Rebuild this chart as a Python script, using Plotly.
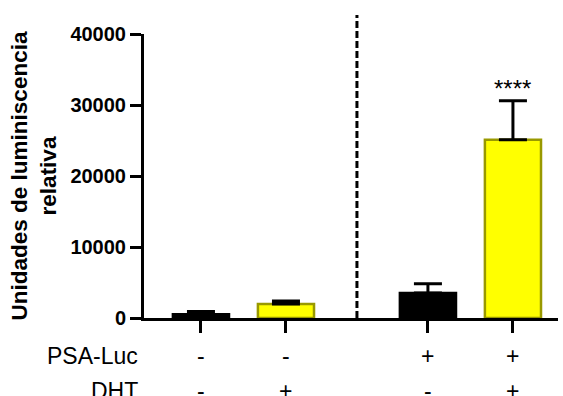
import plotly.graph_objects as go

# ---- data ----
groups = ["ctrl", "DHT", "PSA-Luc", "PSA-Luc + DHT"]
means = [520, 1970, 3520, 25110]
sem = [400, 420, 1310, 5490]
psa_luc = ["-", "-", "+", "+"]
dht = ["-", "+", "-", "+"]
significance = ["", "", "", "****"]
y_ticks = [0, 10000, 20000, 30000, 40000]

# ---- layout helpers (not data) ----
xpos = [0, 1, 2.67, 3.67]
divider_x = 1.835
fills = ["#000000", "#FFFF00", "#000000", "#FFFF00"]
edges = ["#000000", "#999900", "#000000", "#999900"]
FONT = "Arial, Liberation Sans, sans-serif"

fig = go.Figure()
fig.add_trace(go.Bar(
    x=xpos, y=means, width=0.66,
    marker=dict(color=fills, line=dict(color=edges, width=2.5)),
    error_y=dict(type="data", array=sem, arrayminus=[0]*4, symmetric=False,
                 color="black", thickness=3, width=14),
    hoverinfo="skip", showlegend=False,
))

# significance stars
for x, m, e, s in zip(xpos, means, sem, significance):
    if s:
        fig.add_annotation(x=x, y=m + e, text=s, showarrow=False, yanchor="bottom",
                           yshift=-3, font=dict(family=FONT, size=24, color="black"))

# divider
fig.add_shape(type="line", xref="x", yref="paper", x0=divider_x, x1=divider_x,
              y0=0, y1=1.067, line=dict(color="black", width=3, dash="7px,3px"))

# row labels
rows = [("PSA-Luc", psa_luc, -0.135), ("DHT", dht, -0.258)]
for label, signs, yy in rows:
    fig.add_annotation(xref="paper", yref="paper", x=-0.01, y=yy, text=label,
                       showarrow=False, xanchor="right", yanchor="middle",
                       font=dict(family=FONT, size=23, color="black"))
    for x, s in zip(xpos, signs):
        fig.add_annotation(xref="x", yref="paper", x=x, y=yy, text=s,
                           showarrow=False, xanchor="center", yanchor="middle",
                           font=dict(family=FONT, size=23, color="black"))

fig.update_layout(
    width=563, height=396,
    margin=dict(l=144, r=5, t=34, b=78),
    plot_bgcolor="white", paper_bgcolor="white",
    font=dict(family=FONT, color="black"),
    showlegend=False,
    xaxis=dict(range=[-0.67, 4.2], showgrid=False, zeroline=False,
               showline=True, linecolor="black", linewidth=3,
               tickmode="array", tickvals=xpos, ticktext=[""]*4,
               ticks="outside", ticklen=12, tickwidth=3, tickcolor="black",
               showticklabels=False, fixedrange=True),
    yaxis=dict(range=[0, 40000], showgrid=False, zeroline=False,
               showline=True, linecolor="black", linewidth=3,
               tickmode="array", tickvals=y_ticks,
               ticktext=[str(v) for v in y_ticks],
               ticks="outside", ticklen=11, tickwidth=3, tickcolor="black",
               tickfont=dict(family=FONT, size=20, color="black", weight="bold"),
               title=dict(text="Unidades de luminiscencia<br>relativa",
                          font=dict(family=FONT, size=22.5, color="black", weight="bold"),
                          standoff=8),
               automargin=False, fixedrange=True),
)

fig.write_html("out.html", config={"displayModeBar": False, "staticPlot": True})
with open("out.html", encoding="utf-8") as f:
    html = f.read()
html = html.replace("<head>", "<head><style>html,body{margin:0;padding:0;overflow:hidden;}</style>", 1)
with open("out.html", "w", encoding="utf-8") as f:
    f.write(html)
